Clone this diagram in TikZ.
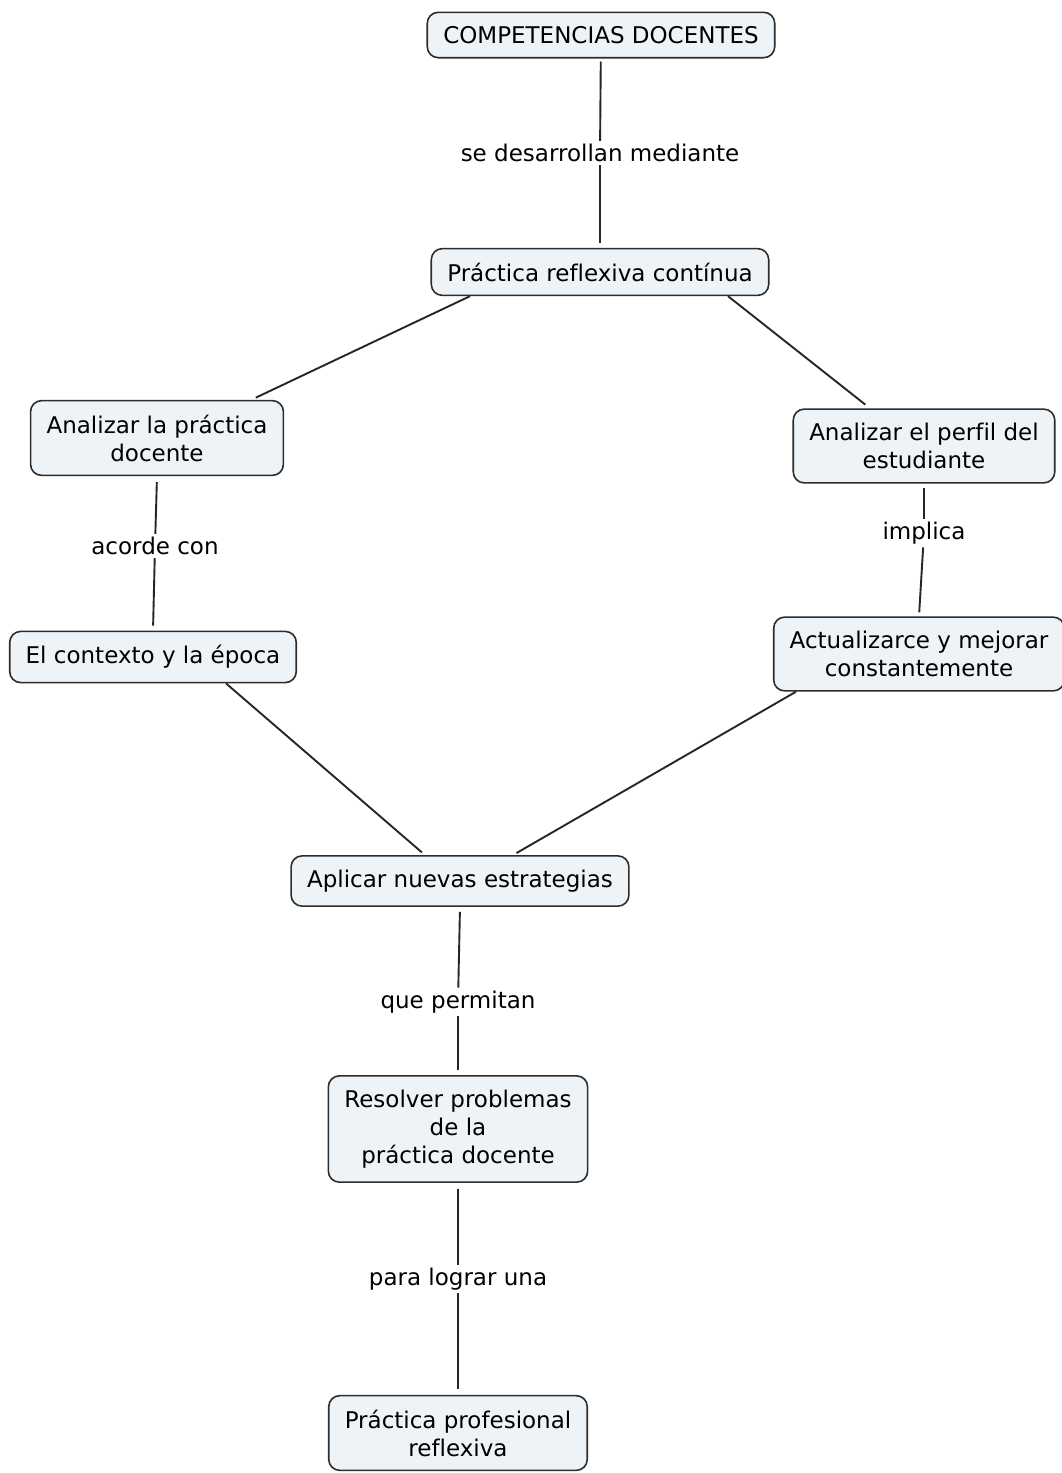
\documentclass[tikz,border=0pt]{standalone}
\usepackage{fontspec}
\setmainfont{DejaVu Sans}[Ligatures=CommonOff]
\usetikzlibrary{positioning,calc}
\definecolor{conceptfill}{RGB}{237,243,246}
\definecolor{conceptline}{RGB}{45,45,45}
\tikzset{
  concept/.style={draw=conceptline,fill=conceptfill,rounded corners=11pt,line width=1.6pt,
    align=center,inner xsep=16pt,inner ysep=14pt,font=\fontsize{23}{28}\selectfont},
  linkword/.style={inner sep=3pt,font=\fontsize{23}{28}\selectfont},
  link/.style={line width=1.9pt,draw=black!85}
}

\begin{document}
\begin{tikzpicture}[x=1pt,y=-1pt]
  \fill[white] (0,0) rectangle (1062,1473);
  \useasboundingbox (0,0) rectangle (1062,1473);
  % Concepts
  \node[concept] (comp) at (601,35) {COMPETENCIAS DOCENTES};
  \node[concept] (prac) at (600,272) {Práctica reflexiva contínua};
  \node[concept] (anaprac) at (157,438) {Analizar la práctica\\docente};
  \node[concept] (anaperf) at (924,446) {Analizar el perfil del\\estudiante};
  \node[concept] (contexto) at (153,657) {El contexto y la época};
  \node[concept] (actual) at (919,654) {Actualizarce y mejorar\\constantemente};
  \node[concept] (aplicar) at (460,881) {Aplicar nuevas estrategias};
  \node[concept] (resolver) at (458,1129) {Resolver problemas\\de la\\práctica docente};
  \node[concept] (final) at (458,1433) {Práctica profesional\\reflexiva};
  % Linking words
  \node[linkword] (desarr) at (600,153) {se desarrollan mediante};
  \node[linkword] (acorde) at (155,546) {acorde con};
  \node[linkword] (implica) at (924,533) {implica};
  \node[linkword] (permitan) at (458,1002) {que permitan};
  \node[linkword] (lograr) at (458,1279) {para lograr una};
  % Connectors
  \draw[link,shorten <=3pt] (comp) -- (desarr);
  \draw[link,shorten >=5pt] (desarr) -- (prac);
  \draw[link,shorten >=5pt] ([xshift=-130pt]prac.south) -- ([xshift=-33pt]anaprac.north east);
  \draw[link,shorten >=6pt] ([xshift=128pt]prac.south) -- ([xshift=-54pt]anaperf.north);
  \draw[link,shorten <=6pt] (anaprac.south) -- (acorde);
  \draw[link,shorten >=5pt] (acorde) -- (contexto.north);
  \draw[link,shorten <=4pt] (anaperf.south) -- (implica);
  \draw[link,shorten >=4pt] (implica) -- (actual.north);
  \draw[link,shorten >=4pt] ([xshift=73pt]contexto.south) -- ([xshift=-35pt]aplicar.north);
  \draw[link,shorten >=4pt] ([xshift=-123pt]actual.south) -- ([xshift=53pt]aplicar.north);
  \draw[link,shorten <=5pt] (aplicar.south) -- (permitan);
  \draw[link,shorten >=5pt] (permitan) -- (resolver.north);
  \draw[link,shorten <=6pt] (resolver.south) -- (lograr);
  \draw[link,shorten >=6pt] (lograr) -- (final.north);
\end{tikzpicture}
\end{document}
